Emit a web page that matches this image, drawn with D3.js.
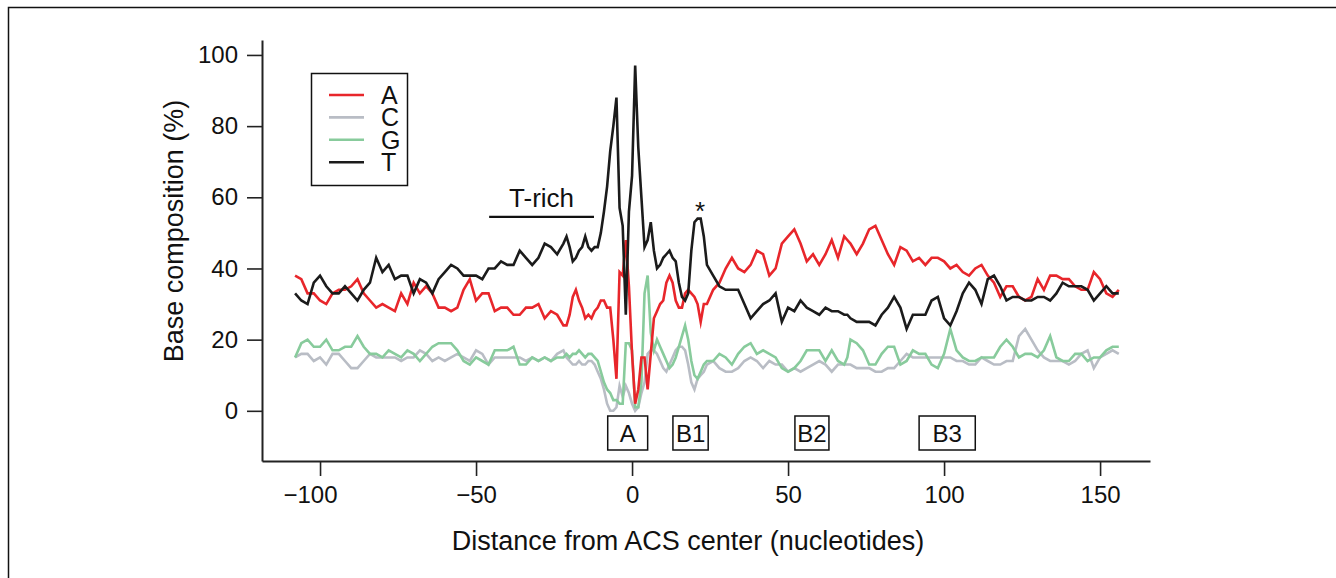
<!DOCTYPE html>
<html lang="en">
<head>
  <meta charset="UTF-8">
  <title>Base composition around the ACS</title>
  <style>
    body {
      margin: 0;
      background-color: #fff;
    }
    svg {
      display: block;
    }
    .axis text, .lbl {
      font-family: 'Liberation Sans', Arial, sans-serif;
      font-size: 24px;
      fill: #111;
    }
    .title {
      font-size: 27px;
    }
  </style>
</head>
<body>
  <svg width="1336" height="578"></svg>
  <script src="https://d3js.org/d3.v7.min.js"></script>
  <script>
    // Positions (nucleotides from ACS center)
    const pos = [
      -108, -106, -104, -102, -100, -98, -96, -94, -92, -90, -88, -86, -84, -82, -80, -78, -76, -74, -72, -70, -68,
      -66, -64, -62, -60, -58, -56, -54, -52, -50, -48, -46, -44, -42, -40, -38, -36, -34, -32, -30, -28, -26, -24, -22,
      -21, -20, -19, -18, -17, -16, -15, -14, -13, -12, -11, -10, -9, -8, -7, -6, -5, -4, -3, -2, -1,
      0, 1, 2, 3, 4, 5, 6, 7, 8, 9, 10, 11, 12, 13, 14, 15, 16, 17, 18, 19, 20, 21, 22, 23,
      24, 26, 28, 30, 32, 34, 36, 38, 40, 42, 44, 46, 48, 50, 52, 54, 56, 58, 60, 62, 64, 66, 68,
      69, 70, 72, 74, 76, 78, 80, 82, 84, 86, 88, 90, 92, 94, 96, 98, 100, 102, 104, 106, 108, 110, 112,
      114, 116, 118, 120, 122, 124, 126, 128, 130, 132, 134, 136, 138, 140, 142, 144, 146, 148, 150, 152, 154, 156
    ];

    // Base composition (%) per position
    const baseA = [
      38, 37, 33, 33, 31, 30, 33, 34, 34, 35, 37, 33, 31, 29, 30, 29, 28, 33, 30, 36, 33,
      35, 33, 29, 29, 28, 29, 34, 37, 31, 33, 33, 28, 29, 29, 27, 27, 29, 29, 30, 26, 28, 27, 24,
      24, 27, 32, 34, 31, 29, 26, 27, 26, 28, 29, 31, 31, 29, 29, 20, 9, 39, 38, 48, 35,
      16, 2, 6, 15, 15, 6, 16, 26, 28, 30, 31, 36, 38, 36, 31, 29, 29, 33, 34, 33, 32, 30, 25, 30,
      30, 34, 36, 40, 43, 40, 39, 41, 45, 44, 38, 40, 47, 49, 51, 47, 42, 44, 41, 44, 48, 43, 49,
      48, 47, 44, 47, 51, 52, 48, 44, 41, 46, 45, 42, 43, 41, 43, 43, 42, 40, 41, 39, 38, 40, 41,
      38, 36, 32, 35, 35, 32, 31, 32, 37, 34, 38, 38, 37, 37, 35, 34, 34, 39, 37, 33, 32, 34
    ];
    const baseC = [
      15, 16, 16, 14, 15, 13, 16, 16, 14, 12, 12, 14, 16, 15, 15, 15, 15, 14, 15, 15, 17,
      16, 14, 15, 14, 15, 16, 15, 14, 17, 16, 13, 15, 15, 15, 15, 15, 14, 15, 14, 15, 14, 16, 17,
      15, 14, 13, 13, 14, 13, 13, 14, 14, 13, 11, 9, 6, 2, 0, 0, 1, 7, 4, 7, 5,
      2, 0, 1, 5, 8, 16, 17, 17, 16, 14, 12, 11, 13, 15, 17, 18, 18, 17, 13, 8, 6, 9, 10, 11,
      13, 14, 12, 11, 11, 12, 14, 15, 14, 12, 14, 13, 13, 11, 12, 11, 12, 13, 14, 13, 11, 13, 13,
      13, 13, 12, 12, 12, 11, 11, 12, 12, 14, 16, 15, 15, 15, 15, 15, 15, 15, 14, 14, 13, 13, 15,
      14, 13, 13, 14, 14, 21, 23, 20, 17, 15, 14, 14, 14, 13, 14, 16, 17, 12, 15, 16, 17, 16
    ];
    const baseG = [
      15, 19, 20, 18, 18, 20, 17, 17, 18, 18, 21, 18, 16, 16, 15, 17, 16, 15, 17, 16, 14,
      16, 18, 19, 19, 19, 17, 14, 13, 15, 14, 13, 17, 17, 17, 18, 13, 13, 15, 14, 15, 14, 15, 15,
      16, 15, 16, 16, 17, 16, 15, 16, 16, 15, 14, 11, 8, 6, 5, 3, 3, 2, 2, 19, 19,
      17, 1, 1, 8, 33, 38, 22, 17, 20, 18, 16, 14, 12, 13, 15, 18, 21, 24, 20, 14, 10, 9, 11, 13,
      14, 14, 16, 15, 13, 16, 18, 19, 16, 17, 16, 15, 12, 11, 12, 14, 17, 17, 17, 14, 17, 14, 13,
      15, 20, 19, 17, 13, 13, 16, 18, 18, 13, 14, 17, 16, 16, 13, 12, 16, 23, 17, 15, 14, 14, 15,
      15, 15, 18, 20, 18, 15, 16, 16, 15, 17, 21, 15, 14, 14, 16, 16, 14, 15, 15, 17, 18, 18
    ];
    const baseT = [
      33, 31, 30, 36, 38, 35, 33, 33, 35, 33, 31, 34, 36, 43, 39, 41, 37, 38, 38, 33, 37,
      36, 33, 37, 39, 41, 40, 38, 38, 38, 37, 40, 40, 42, 41, 41, 45, 43, 41, 43, 47, 46, 44, 47,
      49, 46, 42, 43, 45, 46, 49, 46, 45, 46, 46, 50, 56, 63, 73, 80, 88, 57, 52, 27, 56,
      66, 97, 74, 60, 46, 48, 53, 45, 40, 41, 43, 44, 45, 43, 42, 36, 32, 31, 33, 45, 53, 54, 54, 49,
      41, 38, 35, 34, 34, 34, 30, 26, 28, 30, 31, 33, 25, 29, 28, 31, 29, 28, 27, 29, 28, 28, 27,
      27, 26, 25, 25, 25, 24, 27, 29, 32, 29, 23, 27, 27, 27, 31, 32, 26, 24, 28, 33, 36, 34, 30,
      37, 38, 35, 31, 32, 32, 31, 31, 32, 32, 31, 33, 36, 35, 35, 35, 34, 31, 33, 35, 33, 33
    ];

    const bases = ['A', 'C', 'G', 'T'];
    const baseColors = ['#e8262b', '#b9bdc5', '#88cb9c', '#1b1b1b'];
    const drawOrder = [1, 2, 0, 3];

    const xTicks = [-100, -50, 0, 50, 100, 150];
    const yTicks = [0, 20, 40, 60, 80, 100];

    // Element boxes along the bottom (start, end in nucleotides)
    const boxNames = ['A', 'B1', 'B2', 'B3'];
    const boxStart = [-7.8, 13.1, 52.2, 92.0];
    const boxEnd = [5.0, 24.4, 63.1, 110.0];

    // T-rich bracket and the asterisk
    const tRich = [-45.8, -12.2];
    const tRichLevel = 54.5;
    const starPos = 21.8;
    const starLevel = 54;

    // SVG setup
    const svg = d3.select('svg');
    const x = d3.scaleLinear().domain([-118.6, 166]).range([262, 1150]);
    const y = d3.scaleLinear().domain([-14.1, 104.2]).range([461, 40]);

    // Outer frame (top and left only)
    svg.append('path')
      .attr('d', 'M8.5,578 L8.5,7.5 L1336,7.5')
      .attr('fill', 'none')
      .attr('stroke', '#111')
      .attr('stroke-width', 1.5);

    // Axes
    const xAxis = svg.append('g')
      .attr('class', 'axis')
      .attr('transform', `translate(0,${y.range()[0]})`)
      .call(d3.axisBottom(x).tickValues(xTicks).tickSize(15).tickSizeOuter(0).tickPadding(10)
        .tickFormat(d => d < 0 ? '\u2212' + Math.abs(d) : d));
    xAxis.select('.domain').attr('stroke', '#222').attr('stroke-width', 2);
    xAxis.selectAll('.tick line').attr('stroke', '#222').attr('stroke-width', 1.6);
    xAxis.selectAll('.tick text')
      .attr('dy', '0.71em')
      .attr('dx', d => d === -100 ? -10 : 0)
      .attr('fill', '#111');

    const yAxis = svg.append('g')
      .attr('class', 'axis')
      .attr('transform', `translate(${x.range()[0]},0)`)
      .call(d3.axisLeft(y).tickValues(yTicks).tickSize(15).tickSizeOuter(0).tickPadding(9));
    yAxis.select('.domain').attr('stroke', '#222').attr('stroke-width', 2);
    yAxis.selectAll('.tick line').attr('stroke', '#222').attr('stroke-width', 1.6);
    yAxis.selectAll('.tick text').attr('fill', '#111');

    // Axis titles
    svg.append('text')
      .attr('class', 'lbl title')
      .attr('x', 688)
      .attr('y', 550)
      .attr('text-anchor', 'middle')
      .text('Distance from ACS center (nucleotides)');

    svg.append('text')
      .attr('class', 'lbl title')
      .attr('transform', 'translate(183,231) rotate(-90)')
      .attr('text-anchor', 'middle')
      .text('Base composition (%)');

    // Series lines
    const line = d3.line()
      .x(d => x(d[0]))
      .y(d => y(d[1]));

    const series = [baseA, baseC, baseG, baseT];
    drawOrder.forEach(i => {
      svg.append('path')
        .datum(pos.map((p, j) => [p, series[i][j]]))
        .attr('d', line)
        .attr('fill', 'none')
        .attr('stroke', baseColors[i])
        .attr('stroke-width', 2.6)
        .attr('stroke-linejoin', 'miter')
        .attr('stroke-miterlimit', 6);
    });

    // T-rich bracket
    svg.append('line')
      .attr('x1', x(tRich[0]))
      .attr('x2', x(tRich[1]))
      .attr('y1', y(tRichLevel))
      .attr('y2', y(tRichLevel))
      .attr('stroke', '#111')
      .attr('stroke-width', 2.4);
    svg.append('text')
      .attr('class', 'lbl')
      .attr('x', x((tRich[0] + tRich[1]) / 2))
      .attr('y', y(tRichLevel) - 10)
      .attr('text-anchor', 'middle')
      .style('font-size', '26px')
      .text('T-rich');

    svg.append('text')
      .attr('class', 'lbl')
      .attr('x', x(starPos))
      .attr('y', y(starLevel) + 1)
      .attr('text-anchor', 'middle')
      .style('font-size', '26px')
      .text('*');

    // Element boxes
    const boxTop = 416, boxBottom = 450;
    boxNames.forEach((name, i) => {
      svg.append('rect')
        .attr('x', x(boxStart[i]))
        .attr('y', boxTop)
        .attr('width', x(boxEnd[i]) - x(boxStart[i]))
        .attr('height', boxBottom - boxTop)
        .attr('fill', '#fff')
        .attr('stroke', '#111')
        .attr('stroke-width', 1.5);
      svg.append('text')
        .attr('class', 'lbl')
        .attr('x', x((boxStart[i] + boxEnd[i]) / 2))
        .attr('y', boxBottom - 8)
        .attr('text-anchor', 'middle')
        .text(name);
    });

    // Legend
    const legend = svg.append('g');
    legend.append('rect')
      .attr('x', 311.5)
      .attr('y', 73.5)
      .attr('width', 96)
      .attr('height', 112)
      .attr('fill', '#fff')
      .attr('stroke', '#111')
      .attr('stroke-width', 1.5);
    bases.forEach((b, i) => {
      const ly = 95 + i * 22.4;
      legend.append('line')
        .attr('x1', 329).attr('x2', 364)
        .attr('y1', ly).attr('y2', ly)
        .attr('stroke', baseColors[i])
        .attr('stroke-width', 2.6);
      legend.append('text')
        .attr('class', 'lbl')
        .attr('x', 381)
        .attr('y', ly + 9)
        .style('font-size', '25px')
        .text(b);
    });
  </script>
</body>
</html>
